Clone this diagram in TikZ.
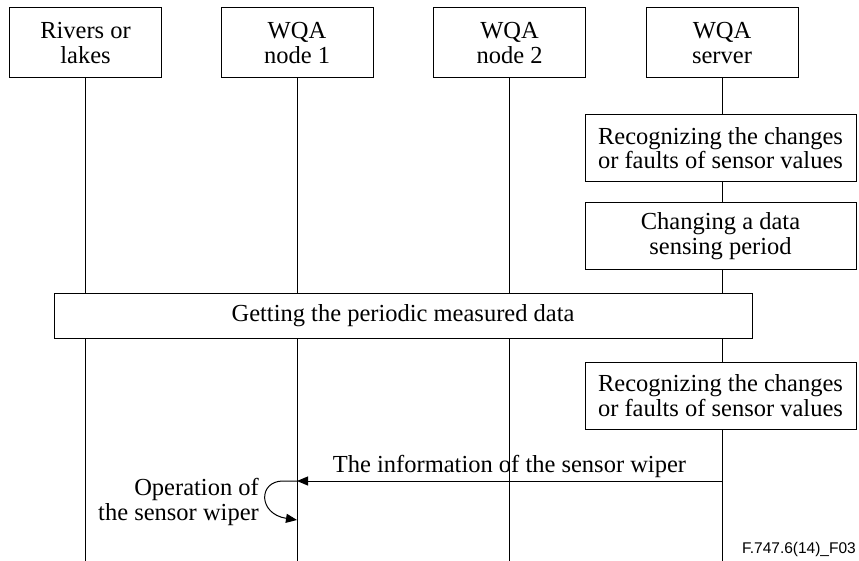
\documentclass[tikz,border=0pt]{standalone}
\usepackage{fontspec}
\setmainfont{Liberation Serif}
\newfontfamily\footfont{Liberation Sans}
\usetikzlibrary{arrows.meta}
\begin{document}
\begin{tikzpicture}[x=1pt,y=-1pt,
  txt/.style={font=\fontsize{24.5}{24.5}\selectfont},
  box/.style={txt, draw, line width=1pt, fill=white, align=center, inner sep=0pt},
  head/.style={box, minimum width=152pt, minimum height=70pt},
  wide/.style={box, minimum width=271pt, minimum height=67pt},
  life/.style={line width=1pt},
  msg/.style={line width=1pt, -{Triangle[length=11pt,width=9pt]}}]
\useasboundingbox (0,0) rectangle (859,561);
% headers
\node[head] (h1) at (85.5,43) {Rivers or\\lakes};
\node[head] (h2) at (297,43) {WQA\\node 1};
\node[head] (h3) at (509.5,43) {WQA\\node 2};
\node[head] (h4) at (722,43) {WQA\\server};
% lifelines
\coordinate (bot) at (0,561);
\draw[life] (h1.south) -- (h1.south |- bot);
\draw[life] (h2.south) -- (h2.south |- bot);
\draw[life] (h3.south) -- (h3.south |- bot);
\draw[life] (h4.south) -- (h4.south |- bot);
% server boxes
\node[wide] (r1) at (720.5,148) {Recognizing the changes\\or faults of sensor values};
\node[wide] (c1) at (720.5,236) {Changing a data\\sensing period};
\node[box, minimum width=698pt, minimum height=45pt] (g1) at (403,315.5) {Getting the periodic measured data};
\node[wide] (r2) at (720.5,395.5) {Recognizing the changes\\or faults of sensor values};
% message
\coordinate (s1) at (h4.south |- 0,481);
\coordinate (n1) at (h2.south |- 0,481);
\coordinate (n1b) at (h2.south |- 0,520);
\draw[msg] (s1) -- node[txt, above=3pt, inner sep=0pt] (ml) {The information of the sensor wiper} (n1);
% self loop
\draw[msg] (n1) -- ++(-14,0) .. controls (258,481) and (258,514) .. (n1b);
\node[txt, align=right, inner sep=0pt, anchor=east] (op) at (259,502) {Operation of\\the sensor wiper};
% footer
\node[font=\footfont\fontsize{15.5}{16}\selectfont, anchor=base east, inner sep=0pt] (ft) at (856,553) {F.747.6(14)\_F03};
\end{tikzpicture}
\end{document}
